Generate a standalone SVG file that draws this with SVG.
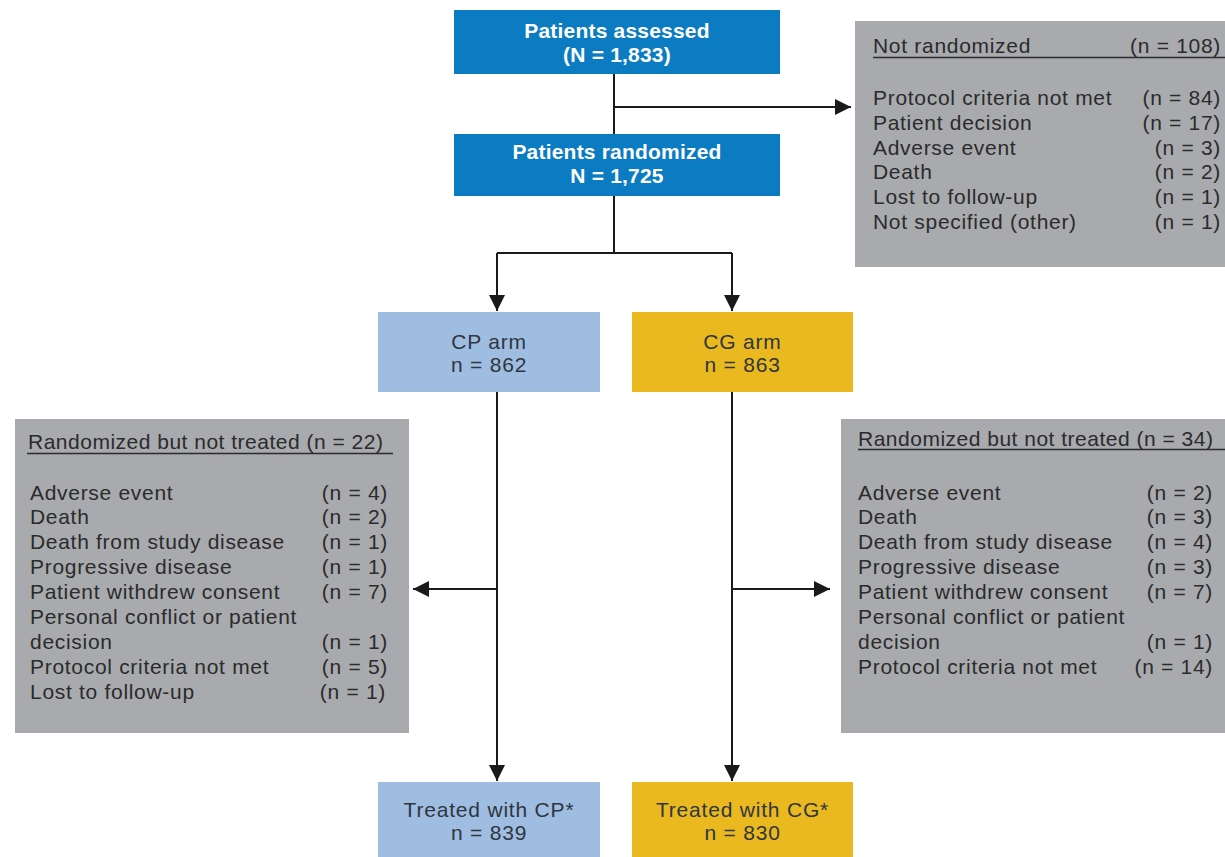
<svg xmlns="http://www.w3.org/2000/svg" width="1225" height="857" viewBox="0 0 1225 857">
  <defs>
    <marker id="arrow" viewBox="0 0 10 10" refX="10" refY="5" markerWidth="8.5" markerHeight="8" markerUnits="strokeWidth" orient="auto">
      <path d="M0,0 L10,5 L0,10 Z" fill="#1a1a1a"/>
    </marker>
    <style>
      .blue { fill: #0b7bc2; }
      .lblue { fill: #9ebde1; }
      .yellow { fill: #e9b91f; }
      .gray { fill: #a8aaad; }
      .title { font-family: "Liberation Sans", Arial, sans-serif; font-size: 21px; font-weight: bold; fill: #ffffff; text-anchor: middle; letter-spacing: 0.2px; }
      .arm { font-family: "Liberation Sans", Arial, sans-serif; font-size: 21px; fill: #2f3640; text-anchor: middle; letter-spacing: 0.8px; }
      .item { font-family: "Liberation Sans", Arial, sans-serif; font-size: 21px; fill: #2b2b2b; letter-spacing: 0.7px; }
      .head { letter-spacing: 0.5px; }
      .num { text-anchor: end; }
      .rule { stroke: #2b2b2b; stroke-width: 1.5; }
      .link { fill: none; stroke: #1a1a1a; stroke-width: 2; }
    </style>
  </defs>

  <rect width="1225" height="857" fill="#ffffff"/>

  <!-- connectors -->
  <g id="connectors">
    <path class="link" d="M614,74 V134"/>
    <path class="link" d="M614,107 H851" marker-end="url(#arrow)"/>
    <path class="link" d="M614,196 V253"/>
    <path class="link" d="M497,253 H732"/>
    <path class="link" d="M497,253 V311" marker-end="url(#arrow)"/>
    <path class="link" d="M732,253 V311" marker-end="url(#arrow)"/>
    <path class="link" d="M497,392 V781" marker-end="url(#arrow)"/>
    <path class="link" d="M732,392 V781" marker-end="url(#arrow)"/>
    <path class="link" d="M497,589 H413" marker-end="url(#arrow)"/>
    <path class="link" d="M732,589 H830" marker-end="url(#arrow)"/>
  </g>

  <!-- top flow -->
  <g id="assessed">
    <rect class="blue" x="454" y="10" width="326" height="64"/>
    <text class="title" x="617" y="38">Patients assessed</text>
    <text class="title" x="617" y="62">(N = 1,833)</text>
  </g>

  <g id="randomized">
    <rect class="blue" x="454" y="134" width="326" height="62"/>
    <text class="title" x="617" y="159">Patients randomized</text>
    <text class="title" x="617" y="183">N = 1,725</text>
  </g>

  <g id="not-randomized">
    <rect class="gray" x="855" y="21" width="375" height="246"/>
    <text class="item" x="873" y="53">Not randomized</text>
    <text class="item num" x="1221" y="53">(n = 108)</text>
    <line class="rule" x1="873" y1="57.5" x2="1225" y2="57.5"/>
    <text class="item" x="873" y="105">Protocol criteria not met</text>
    <text class="item num" x="1221" y="105">(n = 84)</text>
    <text class="item" x="873" y="130">Patient decision</text>
    <text class="item num" x="1221" y="130">(n = 17)</text>
    <text class="item" x="873" y="155">Adverse event</text>
    <text class="item num" x="1221" y="155">(n = 3)</text>
    <text class="item" x="873" y="179">Death</text>
    <text class="item num" x="1221" y="179">(n = 2)</text>
    <text class="item" x="873" y="204">Lost to follow-up</text>
    <text class="item num" x="1221" y="204">(n = 1)</text>
    <text class="item" x="873" y="229">Not specified (other)</text>
    <text class="item num" x="1221" y="229">(n = 1)</text>
  </g>

  <!-- arms -->
  <g id="cp-arm">
    <rect class="lblue" x="378" y="312" width="222" height="80"/>
    <text class="arm" x="489" y="349">CP arm</text>
    <text class="arm" x="489" y="372">n = 862</text>
  </g>

  <g id="cg-arm">
    <rect class="yellow" x="632" y="312" width="221" height="80"/>
    <text class="arm" x="742.5" y="349">CG arm</text>
    <text class="arm" x="742.5" y="372">n = 863</text>
  </g>

  <g id="cp-not-treated">
    <rect class="gray" x="15" y="419" width="394" height="314"/>
    <text class="item head" x="28" y="449">Randomized but not treated (n = 22)</text>
    <line class="rule" x1="27" y1="453.5" x2="393" y2="453.5"/>
    <text class="item" x="30" y="500">Adverse event</text>
    <text class="item num" x="388" y="500">(n = 4)</text>
    <text class="item" x="30" y="524">Death</text>
    <text class="item num" x="388" y="524">(n = 2)</text>
    <text class="item" x="30" y="549">Death from study disease</text>
    <text class="item num" x="388" y="549">(n = 1)</text>
    <text class="item" x="30" y="574">Progressive disease</text>
    <text class="item num" x="388" y="574">(n = 1)</text>
    <text class="item" x="30" y="599">Patient withdrew consent</text>
    <text class="item num" x="388" y="599">(n = 7)</text>
    <text class="item" x="30" y="624">Personal conflict or patient</text>
    <text class="item" x="30" y="649">decision</text>
    <text class="item num" x="388" y="649">(n = 1)</text>
    <text class="item" x="30" y="674">Protocol criteria not met</text>
    <text class="item num" x="388" y="674">(n = 5)</text>
    <text class="item" x="30" y="699">Lost to follow-up</text>
    <text class="item num" x="386" y="699">(n = 1)</text>
  </g>

  <g id="cg-not-treated">
    <rect class="gray" x="841" y="419" width="390" height="314"/>
    <text class="item head" x="858" y="446">Randomized but not treated (n = 34)</text>
    <line class="rule" x1="858" y1="449.5" x2="1225" y2="449.5"/>
    <text class="item" x="858" y="500">Adverse event</text>
    <text class="item num" x="1213" y="500">(n = 2)</text>
    <text class="item" x="858" y="524">Death</text>
    <text class="item num" x="1213" y="524">(n = 3)</text>
    <text class="item" x="858" y="549">Death from study disease</text>
    <text class="item num" x="1213" y="549">(n = 4)</text>
    <text class="item" x="858" y="574">Progressive disease</text>
    <text class="item num" x="1213" y="574">(n = 3)</text>
    <text class="item" x="858" y="599">Patient withdrew consent</text>
    <text class="item num" x="1213" y="599">(n = 7)</text>
    <text class="item" x="858" y="624">Personal conflict or patient</text>
    <text class="item" x="858" y="649">decision</text>
    <text class="item num" x="1213" y="649">(n = 1)</text>
    <text class="item" x="858" y="674">Protocol criteria not met</text>
    <text class="item num" x="1213" y="674">(n = 14)</text>
  </g>

  <!-- treated -->
  <g id="cp-treated">
    <rect class="lblue" x="378" y="782" width="222" height="80"/>
    <text class="arm" x="489" y="817">Treated with CP*</text>
    <text class="arm" x="489" y="840">n = 839</text>
  </g>

  <g id="cg-treated">
    <rect class="yellow" x="632" y="782" width="221" height="80"/>
    <text class="arm" x="742.5" y="817">Treated with CG*</text>
    <text class="arm" x="742.5" y="840">n = 830</text>
  </g>
</svg>
